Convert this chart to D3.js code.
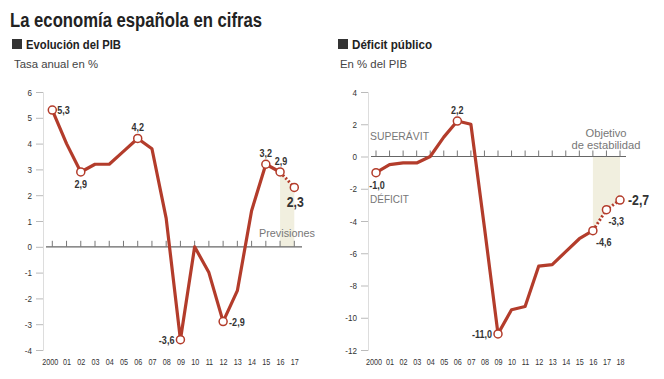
<!DOCTYPE html>
<html><head><meta charset="utf-8">
<script src="https://cdn.jsdelivr.net/npm/d3@7"></script>
<style>
body{margin:0;background:#fff;}
text{font-family:"Liberation Sans",Arial,Helvetica,sans-serif;}
</style></head>
<body><svg id="c" width="664" height="379"></svg>
<script>
const pibYears = ["2000","01","02","03","04","05","06","07","08","09","10","11","12","13","14","15","16","17"];
const pibValues = [5.3,4.0,2.9,3.2,3.2,3.7,4.2,3.8,1.1,-3.6,0.0,-1.0,-2.9,-1.7,1.4,3.2,2.9,2.3];
const pibTicks = [6,5,4,3,2,1,0,-1,-2,-3,-4];
const pibMarked = ["2000","02","06","09","12","15","16","17"];
const defYears = ["2000","01","02","03","04","05","06","07","08","09","10","11","12","13","14","15","16","17","18"];
const defValues = [-1.0,-0.5,-0.4,-0.4,0.0,1.2,2.2,2.0,-4.4,-11.0,-9.5,-9.3,-6.8,-6.7,-5.9,-5.1,-4.6,-3.3,-2.7];
const defTicks = [4,2,0,-2,-4,-6,-8,-10,-12];
const defMarked = ["2000","06","09","16","17","18"];

const RED = "#b33c2b";
const svg = d3.select("#c");
const fmt = v => d3.format(".1f")(v).replace(".", ",").replace("−","-");

// condense text horizontally (mimics a condensed typeface)
function cond(sel, target){
  sel.each(function(){
    const w = this.getComputedTextLength();
    const t = (typeof target === "number" && target > 2) ? target : w * (target || 0.82);
    d3.select(this).attr("textLength", t).attr("lengthAdjust","spacingAndGlyphs");
  });
  return sel;
}

cond(svg.append("text").attr("x",10).attr("y",27).attr("font-size",19.5).attr("font-weight","bold").attr("fill","#222").text("La economía española en cifras"), 252);

function panel(o){
  const g = svg.append("g");
  g.append("rect").attr("x",o.hx).attr("y",39).attr("width",10).attr("height",10).attr("fill","#333");
  cond(g.append("text").attr("x",o.hx+14).attr("y",49).attr("font-size",13.5).attr("font-weight","bold").attr("fill","#222").text(o.title), o.titleW);
  cond(g.append("text").attr("x",o.hx+2).attr("y",68).attr("font-size",11).attr("fill","#444").text(o.sub), o.subW);

  const x = d3.scalePoint().domain(o.years).range([o.x0,o.x1]);
  const y = d3.scaleLinear().domain(o.ydom).range([92,350]);

  // y axis
  const ya = g.append("g").attr("transform",`translate(${o.ax},0)`)
    .call(d3.axisLeft(y).tickValues(o.ticks).tickSize(7).tickPadding(4).tickFormat(d=>String(d).replace("−","-")));
  ya.select(".domain").attr("stroke","#ddd").attr("stroke-width",1);
  ya.selectAll(".tick line").attr("stroke","#bbb");
  cond(ya.selectAll(".tick text").attr("font-size",9.5).attr("fill","#333"), 0.85);

  // band
  const bi = o.years.indexOf(o.bandStart);
  const bandData = o.years.slice(bi).map((yr,i)=>({yr, v:o.values[bi+i]}));
  g.append("path").datum(bandData).attr("fill","#f1efdf")
    .attr("d", d3.area().x(d=>x(d.yr)).y0(y(0)).y1(d=>y(d.v)));

  // zero line with ticks
  g.append("line").attr("x1",o.zx0).attr("x2",o.zx1).attr("y1",y(0)).attr("y2",y(0)).attr("stroke","#666").attr("stroke-width",1.2);
  g.selectAll(".zt").data(o.years).enter().append("line")
    .attr("x1",d=>x(d)).attr("x2",d=>x(d)).attr("y1",y(0)-6).attr("y2",y(0)).attr("stroke","#777");

  // x labels
  const xa = g.append("g").attr("transform",`translate(0,358)`).call(d3.axisBottom(x).tickSize(0).tickPadding(0));
  xa.select(".domain").remove();
  const xt = xa.selectAll(".tick text").attr("font-size",9.5).attr("fill","#333").attr("dy","0.7em");
  xt.filter(d=>d==="2000").attr("dx",-2.5);
  cond(xt, 0.76);

  // line
  const pts = o.years.map((yr,i)=>({yr, v:o.values[i]}));
  const li = o.years.indexOf(o.dashFrom);
  const line = d3.line().x(d=>x(d.yr)).y(d=>y(d.v));
  g.append("path").datum(pts.slice(0,li+1)).attr("d",line).attr("fill","none").attr("stroke",RED).attr("stroke-width",3.2).attr("stroke-linejoin","round");
  g.append("path").datum(pts.slice(li)).attr("d",line).attr("fill","none").attr("stroke",RED).attr("stroke-width",3).attr("stroke-dasharray","2,2");

  g.selectAll(".pt").data(pts.filter(d=>o.marked.includes(d.yr))).enter().append("circle")
    .attr("cx",d=>x(d.yr)).attr("cy",d=>y(d.v)).attr("r",4).attr("fill","#fff").attr("stroke",RED).attr("stroke-width",1.5);

  o.labels.forEach(l=>{
    const v = o.values[o.years.indexOf(l.yr)];
    cond(g.append("text").attr("x",x(l.yr)+l.dx).attr("y",y(v)+l.dy).attr("text-anchor",l.a||"middle")
      .attr("font-size",l.big?15:11).attr("font-weight","bold").attr("fill","#333").text(fmt(v)), 0.82);
  });
  return {g,x,y};
}

const p1 = panel({hx:12,title:"Evolución del PIB",titleW:95,sub:"Tasa anual en %",subW:84,years:pibYears,values:pibValues,ticks:pibTicks,
  x0:52.3,x1:294.3,ydom:[6,-4],ax:43,zx0:46,zx1:302,bandStart:"16",dashFrom:"16",marked:pibMarked,
  labels:[{yr:"2000",dx:5,dy:4,a:"start"},{yr:"02",dx:0,dy:16},{yr:"06",dx:0,dy:-7},{yr:"09",dx:-6,dy:4,a:"end"},
          {yr:"12",dx:6,dy:4,a:"start"},{yr:"15",dx:0,dy:-7},{yr:"16",dx:1,dy:-7},{yr:"17",dx:1,dy:20,big:true}]});
cond(p1.g.append("text").attr("x",315).attr("y",237).attr("text-anchor","end").attr("font-size",11).attr("fill","#777").text("Previsiones"), 56);

const p2 = panel({hx:338,title:"Déficit público",titleW:80,sub:"En % del PIB",subW:67,years:defYears,values:defValues,ticks:defTicks,
  x0:376,x1:620,ydom:[4,-12],ax:368,zx0:371,zx1:626,bandStart:"16",dashFrom:"16",marked:defMarked,
  labels:[{yr:"2000",dx:1,dy:16},{yr:"06",dx:0,dy:-7},{yr:"09",dx:-6,dy:4,a:"end"},
          {yr:"16",dx:3,dy:15,a:"start"},{yr:"17",dx:2,dy:15,a:"start"},{yr:"18",dx:8,dy:5,a:"start",big:true}]});
cond(p2.g.append("text").attr("x",370).attr("y",140).attr("font-size",11).attr("fill","#777").text("SUPERÁVIT"), 59);
cond(p2.g.append("text").attr("x",370).attr("y",203).attr("font-size",11).attr("fill","#777").text("DÉFICIT"), 39);
cond(p2.g.append("text").attr("x",606).attr("y",137).attr("text-anchor","middle").attr("font-size",11).attr("fill","#777").text("Objetivo"), 41);
cond(p2.g.append("text").attr("x",606).attr("y",149).attr("text-anchor","middle").attr("font-size",11).attr("fill","#777").text("de estabilidad"), 69);
</script></body></html>
